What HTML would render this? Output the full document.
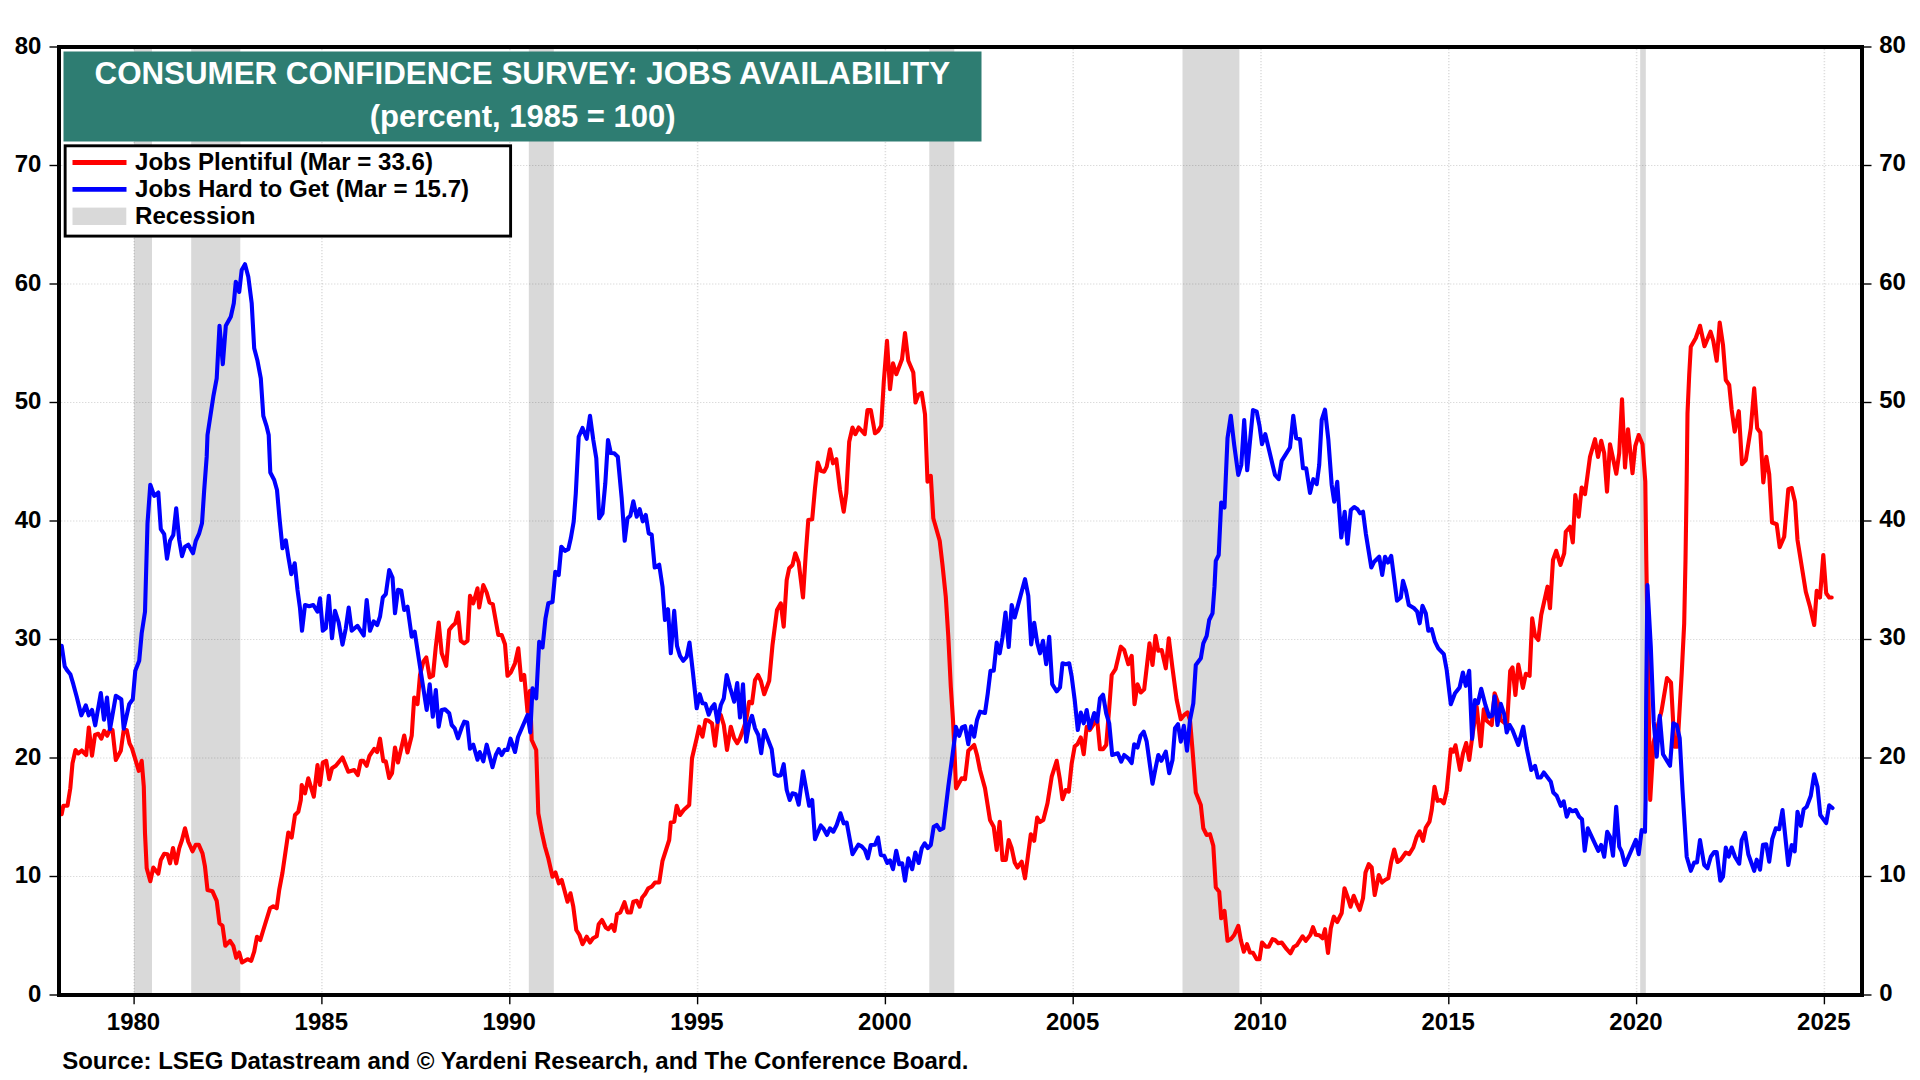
<!DOCTYPE html>
<html><head><meta charset="utf-8"><title>Consumer Confidence Survey: Jobs Availability</title>
<style>
html,body{margin:0;padding:0;background:#fff;}
body{width:1920px;height:1080px;overflow:hidden;position:relative;font-family:"Liberation Sans",Arial,sans-serif;}
svg{position:absolute;left:0;top:0;}
text{font-family:"Liberation Sans",Arial,sans-serif;font-weight:bold;}
.ax{font-size:24px;fill:#000;}
.lg{font-size:24.1px;fill:#000;}
.tt{font-size:31.2px;fill:#fff;}
.src{font-size:24px;fill:#000;}
</style></head><body>
<svg width="1920" height="1080" viewBox="0 0 1920 1080">
<rect x="0" y="0" width="1920" height="1080" fill="#fff"/>

<rect x="134" y="49" width="18" height="944" fill="#d9d9d9"/>
<rect x="191.2" y="49" width="49.10000000000002" height="944" fill="#d9d9d9"/>
<rect x="528.8" y="49" width="25.0" height="944" fill="#d9d9d9"/>
<rect x="929.3" y="49" width="25.0" height="944" fill="#d9d9d9"/>
<rect x="1182.5" y="49" width="56.90000000000009" height="944" fill="#d9d9d9"/>
<rect x="1640.2" y="49" width="5.599999999999909" height="944" fill="#d9d9d9"/>
<line x1="61" x2="1860" y1="876.5" y2="876.5" stroke="#000" stroke-opacity="0.14" stroke-width="1.2" stroke-dasharray="1.4 1.6"/>
<line x1="61" x2="1860" y1="758.0" y2="758.0" stroke="#000" stroke-opacity="0.14" stroke-width="1.2" stroke-dasharray="1.4 1.6"/>
<line x1="61" x2="1860" y1="639.5" y2="639.5" stroke="#000" stroke-opacity="0.14" stroke-width="1.2" stroke-dasharray="1.4 1.6"/>
<line x1="61" x2="1860" y1="521.0" y2="521.0" stroke="#000" stroke-opacity="0.14" stroke-width="1.2" stroke-dasharray="1.4 1.6"/>
<line x1="61" x2="1860" y1="402.5" y2="402.5" stroke="#000" stroke-opacity="0.14" stroke-width="1.2" stroke-dasharray="1.4 1.6"/>
<line x1="61" x2="1860" y1="284.0" y2="284.0" stroke="#000" stroke-opacity="0.14" stroke-width="1.2" stroke-dasharray="1.4 1.6"/>
<line x1="61" x2="1860" y1="165.5" y2="165.5" stroke="#000" stroke-opacity="0.14" stroke-width="1.2" stroke-dasharray="1.4 1.6"/>
<line x1="134.1" x2="134.1" y1="49" y2="993" stroke="#000" stroke-opacity="0.13" stroke-width="1.6" stroke-dasharray="1.3 1.7"/>
<line x1="321.9" x2="321.9" y1="49" y2="993" stroke="#000" stroke-opacity="0.13" stroke-width="1.6" stroke-dasharray="1.3 1.7"/>
<line x1="509.8" x2="509.8" y1="49" y2="993" stroke="#000" stroke-opacity="0.13" stroke-width="1.6" stroke-dasharray="1.3 1.7"/>
<line x1="697.6" x2="697.6" y1="49" y2="993" stroke="#000" stroke-opacity="0.13" stroke-width="1.6" stroke-dasharray="1.3 1.7"/>
<line x1="885.4" x2="885.4" y1="49" y2="993" stroke="#000" stroke-opacity="0.13" stroke-width="1.6" stroke-dasharray="1.3 1.7"/>
<line x1="1073.2" x2="1073.2" y1="49" y2="993" stroke="#000" stroke-opacity="0.13" stroke-width="1.6" stroke-dasharray="1.3 1.7"/>
<line x1="1261.0" x2="1261.0" y1="49" y2="993" stroke="#000" stroke-opacity="0.13" stroke-width="1.6" stroke-dasharray="1.3 1.7"/>
<line x1="1448.8" x2="1448.8" y1="49" y2="993" stroke="#000" stroke-opacity="0.13" stroke-width="1.6" stroke-dasharray="1.3 1.7"/>
<line x1="1636.6" x2="1636.6" y1="49" y2="993" stroke="#000" stroke-opacity="0.13" stroke-width="1.6" stroke-dasharray="1.3 1.7"/>
<line x1="1824.4" x2="1824.4" y1="49" y2="993" stroke="#000" stroke-opacity="0.13" stroke-width="1.6" stroke-dasharray="1.3 1.7"/>
<path d="M61.7,814.2 L63.3,805.8 L67.5,805.8 L70.3,788.3 L72.5,763.3 L75.5,750.0 L78.3,753.3 L81.7,750.5 L86.2,755.0 L88.8,727.5 L92.0,755.8 L95.0,735.0 L98.3,733.8 L101.3,738.7 L104.2,730.8 L107.2,735.8 L110.0,729.2 L112.5,730.0 L115.8,760.0 L120.8,750.8 L123.7,730.0 L126.7,730.0 L129.5,743.3 L132.0,748.3 L135.0,758.3 L138.8,770.8 L141.7,760.8 L143.8,786.7 L145.0,833.3 L146.7,868.3 L150.3,881.2 L153.3,867.5 L158.3,873.7 L160.8,860.0 L164.2,853.7 L167.5,854.2 L170.0,863.3 L173.0,848.0 L176.2,863.3 L179.2,848.3 L182.0,840.0 L185.0,828.3 L188.3,841.7 L192.5,851.3 L195.8,844.7 L198.7,844.7 L202.5,853.3 L205.0,866.7 L207.5,890.0 L212.5,891.3 L216.7,900.8 L219.5,923.3 L222.5,925.8 L225.3,945.8 L230.0,940.8 L233.3,945.8 L236.2,957.8 L239.2,952.5 L242.0,962.5 L247.5,959.2 L251.2,960.8 L254.2,951.7 L257.0,936.7 L260.3,940.0 L263.3,930.0 L270.0,908.3 L273.3,906.3 L276.7,908.3 L279.2,890.0 L282.5,872.5 L288.3,832.5 L291.7,837.5 L295.0,815.0 L298.3,811.7 L300.8,800.0 L301.7,785.0 L305.0,793.3 L308.3,778.3 L313.8,796.7 L317.5,765.0 L320.0,785.0 L322.8,762.5 L326.2,760.8 L329.2,779.2 L332.0,768.3 L335.8,765.8 L342.5,757.5 L348.3,771.7 L354.2,770.0 L357.8,775.0 L360.8,760.8 L363.3,760.8 L366.7,765.8 L369.5,755.8 L374.2,748.8 L377.2,752.0 L380.0,738.7 L383.3,761.3 L385.8,761.3 L389.2,778.0 L392.0,773.3 L395.0,747.5 L398.0,762.5 L404.2,735.5 L407.5,752.5 L411.7,735.8 L414.2,697.5 L417.5,704.2 L420.0,675.0 L423.3,661.7 L426.3,657.5 L429.7,677.5 L433.0,675.8 L435.8,646.7 L438.7,622.5 L441.7,653.3 L446.2,665.8 L449.2,630.0 L452.5,625.8 L455.3,623.3 L458.0,612.5 L460.8,640.8 L464.2,643.3 L467.5,640.8 L470.0,595.8 L473.3,603.3 L477.5,588.3 L479.2,607.5 L483.3,585.0 L486.7,592.5 L489.5,602.5 L492.8,604.2 L498.3,635.0 L501.7,635.0 L505.0,644.2 L507.5,675.8 L510.8,672.5 L515.0,663.3 L518.3,648.3 L521.2,680.0 L524.2,675.0 L527.5,711.7 L530.0,690.8 L531.7,740.0 L536.2,750.0 L538.3,813.3 L541.7,831.7 L545.0,846.7 L548.3,858.3 L552.5,876.7 L555.5,872.5 L558.8,883.3 L561.7,880.0 L567.5,901.7 L570.5,893.3 L573.3,906.7 L576.3,930.0 L579.5,935.0 L582.5,944.2 L586.7,936.7 L590.0,942.5 L593.0,938.3 L596.7,936.3 L598.7,924.2 L602.0,920.0 L605.8,927.5 L608.3,929.2 L611.7,925.0 L614.5,930.8 L617.0,914.2 L620.3,912.5 L624.5,902.2 L627.5,912.5 L630.8,912.5 L633.3,901.7 L636.7,900.8 L639.7,906.7 L642.2,897.5 L645.0,894.2 L648.3,888.3 L651.7,886.7 L655.0,882.5 L659.2,882.5 L662.5,860.8 L669.2,840.0 L670.8,822.5 L674.2,821.7 L676.7,805.8 L680.0,815.0 L683.7,810.0 L689.2,805.0 L692.0,758.3 L696.7,738.3 L699.2,726.7 L702.5,736.7 L705.5,720.0 L708.7,720.8 L712.0,723.3 L715.0,745.8 L718.0,720.0 L720.8,715.0 L723.8,725.0 L727.0,750.0 L730.8,726.7 L734.2,738.3 L737.2,743.3 L740.0,738.3 L743.0,730.0 L746.2,720.0 L749.2,701.7 L752.0,703.3 L755.0,680.0 L758.0,675.0 L760.8,680.8 L764.2,694.2 L769.2,680.8 L772.5,645.0 L777.0,610.0 L780.8,603.3 L783.7,626.7 L786.7,580.0 L789.2,568.3 L792.5,565.0 L795.3,553.3 L798.7,562.5 L803.0,597.5 L805.8,553.3 L808.3,520.0 L812.2,519.2 L815.0,488.3 L817.8,462.5 L820.8,470.8 L824.2,471.7 L826.7,466.7 L830.0,449.2 L833.0,463.3 L836.3,459.2 L840.0,490.0 L843.7,511.7 L846.3,493.3 L849.2,441.7 L852.5,427.5 L855.3,434.2 L858.7,427.5 L864.7,434.2 L867.5,410.0 L870.8,410.0 L875.0,433.3 L878.3,430.8 L881.2,425.8 L883.8,381.7 L887.0,340.8 L890.0,389.2 L893.0,363.3 L896.3,374.2 L902.0,359.2 L905.0,333.0 L908.3,360.8 L913.3,372.5 L915.5,402.5 L918.3,395.0 L921.7,392.8 L925.0,414.2 L927.5,481.7 L930.8,475.8 L933.3,518.3 L939.7,540.8 L942.5,565.0 L945.8,597.0 L948.3,636.7 L950.8,686.7 L953.0,720.0 L954.5,752.0 L956.0,787.5 L956.2,788.3 L961.7,778.3 L965.0,779.2 L968.3,750.8 L974.2,745.0 L977.0,755.0 L980.0,770.0 L985.0,788.3 L990.0,820.0 L993.7,826.7 L996.7,850.0 L999.7,821.7 L1002.5,860.0 L1005.8,860.0 L1008.7,840.0 L1011.7,848.3 L1014.7,862.5 L1017.5,867.5 L1021.7,861.7 L1025.0,878.3 L1030.8,834.2 L1034.2,840.8 L1037.2,817.5 L1040.0,822.0 L1043.3,820.0 L1047.5,803.3 L1051.7,776.7 L1056.7,760.8 L1059.7,778.3 L1062.5,799.2 L1065.8,790.0 L1068.7,791.7 L1071.7,763.3 L1074.7,746.3 L1077.5,744.2 L1080.8,737.5 L1083.7,754.2 L1086.7,726.7 L1089.7,730.0 L1094.2,723.3 L1097.2,720.0 L1100.0,749.2 L1103.0,749.2 L1106.2,745.0 L1109.2,708.3 L1111.7,675.0 L1115.5,669.2 L1120.8,646.7 L1124.2,650.0 L1128.3,664.2 L1131.7,655.8 L1134.5,704.2 L1137.5,684.2 L1140.8,692.5 L1144.2,689.2 L1149.5,643.3 L1152.5,665.0 L1155.5,635.8 L1158.3,650.8 L1161.7,650.0 L1165.8,668.3 L1168.8,638.3 L1172.5,668.3 L1176.7,700.0 L1180.8,719.2 L1184.2,715.0 L1187.5,712.5 L1190.0,720.0 L1192.5,750.0 L1195.8,792.5 L1200.8,805.0 L1203.3,828.3 L1206.7,835.0 L1210.0,834.2 L1213.3,845.8 L1215.8,887.5 L1219.2,891.7 L1221.2,918.3 L1224.5,910.8 L1227.5,940.8 L1230.8,939.2 L1234.2,935.0 L1238.3,925.8 L1240.8,940.0 L1243.8,951.7 L1247.0,944.2 L1250.0,952.5 L1253.0,952.8 L1256.7,959.2 L1259.5,959.2 L1262.0,942.5 L1265.8,946.7 L1268.7,946.7 L1272.5,939.2 L1275.0,940.0 L1278.3,943.3 L1281.7,942.5 L1286.7,949.2 L1290.5,953.3 L1293.7,947.0 L1296.7,945.3 L1302.5,936.3 L1305.8,940.8 L1310.3,935.0 L1313.0,927.2 L1315.8,934.7 L1319.2,935.3 L1322.5,938.3 L1325.0,929.2 L1328.0,953.0 L1330.8,928.3 L1333.8,916.7 L1337.2,922.0 L1341.7,913.0 L1344.5,888.3 L1347.5,896.7 L1350.5,906.7 L1353.7,895.8 L1356.7,903.3 L1359.7,910.0 L1363.0,898.3 L1365.5,872.5 L1368.7,864.2 L1371.7,867.5 L1374.7,895.0 L1378.8,875.0 L1382.0,882.5 L1385.0,880.0 L1388.3,878.3 L1391.2,861.7 L1394.2,849.5 L1397.5,862.0 L1400.8,859.7 L1405.8,852.5 L1409.2,854.2 L1413.3,847.5 L1416.7,836.7 L1419.7,831.3 L1423.0,840.8 L1425.8,827.5 L1429.5,821.7 L1431.7,810.0 L1434.5,786.7 L1437.5,800.8 L1440.8,800.0 L1443.8,803.3 L1446.7,790.8 L1450.8,749.2 L1453.3,751.7 L1455.5,745.3 L1460.0,770.0 L1463.0,753.3 L1466.2,743.0 L1469.2,760.0 L1472.5,735.0 L1476.7,706.7 L1480.8,746.2 L1483.8,709.2 L1486.7,720.8 L1491.7,725.0 L1494.6,693.3 L1497.7,701.7 L1500.8,720.0 L1503.9,722.5 L1507.1,723.8 L1510.2,670.8 L1512.5,667.5 L1515.4,695.0 L1518.3,664.6 L1522.9,687.9 L1525.8,673.8 L1529.6,675.8 L1532.2,618.3 L1535.0,635.8 L1538.3,640.0 L1541.2,615.0 L1547.5,586.7 L1550.0,608.3 L1553.0,560.0 L1556.2,550.8 L1560.5,565.0 L1564.2,553.3 L1565.8,531.7 L1570.0,526.7 L1572.8,542.5 L1575.3,495.0 L1578.7,516.7 L1581.7,487.5 L1585.0,494.2 L1590.0,456.7 L1595.0,439.2 L1598.0,457.0 L1601.2,440.8 L1604.2,453.3 L1607.0,491.7 L1610.0,444.2 L1616.3,473.7 L1619.2,453.3 L1622.0,399.2 L1625.0,467.5 L1628.0,429.2 L1632.5,473.3 L1635.3,445.8 L1638.7,435.0 L1642.5,444.2 L1645.3,481.7 L1646.3,560.0 L1647.6,640.0 L1648.6,700.0 L1649.5,760.0 L1650.2,800.0 L1653.6,742.0 L1656.5,731.0 L1659.5,719.0 L1661.5,711.0 L1664.0,696.0 L1667.0,678.0 L1671.0,682.5 L1674.5,746.7 L1677.5,746.7 L1681.7,673.3 L1684.2,623.3 L1685.5,560.0 L1686.7,480.0 L1687.5,413.3 L1689.2,375.0 L1690.8,346.7 L1695.8,338.0 L1700.0,325.8 L1704.5,346.2 L1710.5,331.7 L1713.3,340.8 L1716.7,360.8 L1719.7,322.5 L1723.0,345.0 L1725.8,380.0 L1729.2,385.0 L1731.7,410.0 L1734.7,431.7 L1738.8,411.2 L1742.0,464.2 L1745.8,460.0 L1750.8,428.3 L1754.2,388.3 L1757.2,428.3 L1760.3,432.5 L1763.3,482.5 L1766.3,456.7 L1769.2,474.2 L1772.0,522.5 L1776.7,524.2 L1779.7,547.2 L1784.2,536.7 L1788.3,489.2 L1791.7,488.0 L1795.0,501.7 L1797.5,540.0 L1805.8,591.7 L1810.0,606.7 L1814.2,625.0 L1816.7,590.8 L1820.0,597.5 L1823.3,555.0 L1826.2,593.3 L1829.2,597.5 L1831.7,597.5" fill="none" stroke="#ff0000" stroke-width="4.1" stroke-linejoin="round" stroke-linecap="round"/>
<path d="M61.7,645.8 L64.7,666.3 L67.5,670.8 L70.3,674.2 L73.3,684.2 L76.7,696.7 L81.3,715.3 L85.8,705.3 L88.8,715.3 L92.0,710.0 L95.2,725.3 L100.8,693.0 L104.0,719.7 L107.0,697.5 L110.0,729.2 L115.8,695.8 L121.3,699.2 L123.7,728.7 L129.2,704.2 L132.8,699.2 L135.3,670.8 L139.2,660.8 L141.7,633.3 L145.0,611.7 L147.5,523.3 L150.3,484.7 L154.2,495.8 L158.3,492.5 L160.8,529.2 L164.2,534.2 L167.0,558.7 L170.0,540.8 L173.3,535.0 L176.2,508.3 L179.2,540.0 L182.0,556.2 L185.0,546.7 L188.3,544.7 L193.0,553.3 L195.8,540.8 L199.2,533.3 L202.0,523.3 L204.2,490.0 L206.7,456.7 L207.5,435.0 L210.8,413.3 L213.3,396.7 L216.7,378.3 L219.5,325.8 L222.8,364.2 L225.8,325.8 L230.8,316.7 L233.8,303.3 L235.8,281.7 L239.2,292.0 L241.7,270.0 L245.0,264.2 L248.3,276.7 L251.7,303.3 L254.2,348.3 L257.5,360.8 L260.8,378.3 L263.3,415.8 L266.7,426.7 L268.7,435.0 L270.3,472.5 L274.2,480.0 L277.0,490.0 L279.5,518.3 L282.5,548.3 L285.8,540.3 L288.3,556.7 L291.3,574.2 L294.7,563.3 L297.5,590.0 L300.0,608.3 L302.0,630.8 L305.0,605.0 L309.2,606.3 L313.3,605.0 L317.5,611.7 L320.0,598.3 L322.8,630.8 L325.8,628.3 L328.8,595.8 L332.0,638.3 L335.0,610.8 L338.7,622.5 L342.5,644.7 L345.8,628.3 L348.7,607.5 L351.7,630.8 L357.5,625.8 L363.7,635.5 L366.7,600.0 L370.0,630.8 L373.7,621.3 L377.2,625.0 L380.0,616.7 L382.8,597.5 L385.8,594.2 L389.2,570.0 L392.5,577.5 L395.0,613.3 L398.0,589.7 L401.3,590.8 L404.2,610.0 L407.5,606.7 L411.7,636.7 L414.7,631.7 L420.8,671.7 L426.7,710.0 L429.7,684.2 L432.8,716.7 L435.8,690.0 L438.7,726.7 L441.7,710.0 L445.0,709.2 L449.2,713.3 L451.7,725.0 L454.7,728.3 L458.0,738.3 L461.7,727.5 L464.2,721.7 L467.2,722.5 L470.0,748.7 L473.3,744.7 L477.5,759.7 L479.7,752.0 L483.3,761.3 L486.7,744.7 L492.5,767.2 L495.8,755.0 L498.7,749.2 L501.7,755.0 L504.7,749.7 L507.5,750.0 L510.5,738.7 L515.0,752.0 L518.0,737.0 L527.5,715.0 L530.3,732.5 L532.5,688.3 L536.2,698.3 L539.2,641.7 L542.5,647.5 L545.5,618.3 L548.3,603.3 L552.5,602.0 L555.3,571.7 L558.7,575.0 L561.3,546.7 L565.0,550.8 L568.3,549.2 L570.8,538.3 L573.7,521.7 L575.8,493.3 L578.7,436.7 L582.5,428.0 L586.7,438.8 L590.0,415.8 L593.3,440.0 L596.3,458.3 L599.2,518.3 L602.5,513.3 L605.3,483.3 L608.0,440.0 L610.8,453.0 L614.2,453.3 L617.8,456.7 L621.7,498.3 L624.7,540.8 L627.5,518.3 L630.3,515.8 L633.3,501.3 L636.7,516.7 L639.7,509.2 L642.8,521.3 L645.8,515.0 L648.7,533.3 L651.7,534.7 L654.7,567.5 L659.2,564.7 L662.5,586.7 L665.0,620.0 L668.0,609.2 L670.8,653.3 L674.2,610.8 L677.0,645.8 L680.0,655.8 L683.3,660.8 L686.7,656.7 L689.5,642.5 L693.0,673.3 L696.7,708.3 L699.7,694.2 L702.5,703.3 L705.5,703.8 L708.7,714.7 L711.7,707.5 L714.5,704.2 L717.5,722.0 L720.8,705.0 L723.8,698.3 L726.7,675.0 L730.0,687.5 L734.2,701.7 L737.2,683.0 L740.0,717.5 L743.0,684.2 L746.2,741.7 L749.2,723.3 L752.0,715.8 L755.0,728.3 L758.3,735.0 L761.2,753.3 L764.2,730.0 L771.7,749.2 L774.7,774.2 L778.3,775.8 L780.8,775.3 L783.7,764.2 L786.7,790.0 L789.7,800.0 L792.5,793.3 L795.8,794.2 L798.7,804.7 L803.0,771.3 L809.2,805.8 L812.2,800.0 L815.0,839.2 L820.8,825.5 L823.3,828.3 L827.0,835.0 L830.0,828.3 L833.3,831.7 L836.7,825.0 L840.5,813.3 L843.7,823.3 L846.7,822.5 L852.5,854.2 L858.3,844.7 L861.7,846.3 L865.0,850.0 L867.8,858.3 L870.8,845.0 L875.0,844.7 L878.0,837.5 L880.8,855.0 L884.2,855.8 L887.2,863.0 L890.0,860.3 L893.0,869.2 L896.2,850.8 L899.2,864.2 L902.2,863.3 L905.0,880.8 L908.3,858.3 L912.2,869.2 L915.3,852.5 L918.7,863.0 L921.7,848.3 L924.7,843.3 L927.8,848.0 L930.8,845.0 L933.7,826.7 L936.7,825.0 L940.0,830.0 L943.3,828.3 L948.3,786.7 L952.5,755.0 L955.8,730.0 L955.8,726.7 L959.2,735.8 L962.0,727.5 L965.0,726.2 L968.3,744.2 L971.2,726.2 L974.2,736.7 L977.0,720.0 L980.0,711.7 L985.0,713.0 L987.8,693.3 L990.5,670.8 L993.7,670.8 L996.7,642.5 L999.7,653.3 L1002.5,637.5 L1005.5,612.5 L1008.7,647.0 L1011.7,605.0 L1014.7,617.5 L1025.0,579.2 L1028.3,595.8 L1031.2,644.5 L1034.2,622.8 L1037.2,642.5 L1040.0,653.3 L1043.0,640.8 L1046.2,664.2 L1049.2,636.7 L1052.2,684.2 L1056.7,691.3 L1060.0,687.5 L1062.5,663.3 L1065.8,664.2 L1069.2,663.3 L1071.7,676.7 L1074.7,700.0 L1077.8,730.0 L1080.8,712.5 L1083.7,723.3 L1086.7,710.0 L1089.7,728.3 L1094.2,713.0 L1097.2,721.7 L1100.0,698.3 L1103.0,694.7 L1106.2,713.3 L1109.2,723.3 L1112.2,755.0 L1117.8,753.3 L1121.2,761.7 L1124.2,755.0 L1128.3,758.3 L1131.7,763.0 L1134.2,744.2 L1137.5,747.5 L1140.5,735.8 L1143.7,731.7 L1146.7,741.7 L1152.5,783.8 L1155.5,768.3 L1158.3,755.0 L1161.3,760.8 L1165.8,751.7 L1169.2,773.3 L1172.5,760.0 L1175.0,728.3 L1178.0,724.2 L1180.8,741.7 L1183.8,725.8 L1187.0,750.8 L1190.0,720.0 L1193.3,703.3 L1195.8,665.0 L1200.8,658.3 L1203.3,643.3 L1206.7,635.8 L1209.2,620.0 L1212.5,613.3 L1214.5,586.7 L1215.8,560.8 L1218.7,555.0 L1221.2,502.5 L1224.5,507.5 L1227.5,438.3 L1230.8,415.8 L1234.2,445.0 L1238.3,475.0 L1241.3,465.0 L1244.2,420.0 L1247.2,470.3 L1253.0,410.0 L1256.7,411.7 L1259.5,425.8 L1262.0,444.2 L1265.3,434.2 L1275.0,475.0 L1278.7,479.2 L1281.7,460.8 L1290.0,447.5 L1293.3,415.8 L1296.2,438.3 L1300.0,439.2 L1303.0,468.3 L1306.2,468.3 L1310.0,493.0 L1313.3,479.2 L1316.7,484.2 L1319.2,465.0 L1321.7,420.0 L1325.0,409.7 L1328.3,439.2 L1331.7,485.0 L1334.2,501.7 L1337.2,481.7 L1341.3,537.5 L1344.7,511.7 L1347.5,543.8 L1350.8,510.0 L1354.2,507.0 L1357.5,509.2 L1360.0,513.3 L1363.0,511.7 L1365.8,533.3 L1371.3,567.5 L1374.2,561.7 L1379.2,556.7 L1382.2,575.0 L1385.0,556.7 L1388.0,562.5 L1391.2,555.8 L1397.0,600.8 L1400.8,597.5 L1403.0,580.8 L1405.8,590.0 L1408.8,605.0 L1414.2,608.3 L1417.2,611.7 L1419.7,623.3 L1422.5,605.8 L1425.8,613.3 L1428.3,630.8 L1431.7,629.2 L1435.0,641.7 L1438.3,648.3 L1443.8,654.2 L1446.7,670.0 L1450.8,704.2 L1455.0,693.3 L1459.6,687.5 L1462.9,672.5 L1465.8,685.8 L1469.2,670.8 L1472.1,738.8 L1475.0,700.0 L1477.9,703.3 L1481.2,688.8 L1485.4,705.0 L1489.2,716.7 L1492.1,715.8 L1494.6,696.2 L1497.5,725.0 L1500.8,703.8 L1504.2,714.2 L1506.7,732.5 L1509.6,725.0 L1512.5,730.0 L1518.3,745.0 L1523.2,726.7 L1526.7,748.3 L1531.3,770.0 L1535.0,765.8 L1537.8,777.5 L1540.8,777.5 L1543.8,772.5 L1550.8,781.7 L1553.3,792.5 L1556.7,795.8 L1560.8,805.8 L1563.7,801.3 L1566.7,816.7 L1569.7,809.2 L1572.5,811.3 L1575.8,810.0 L1579.2,816.7 L1582.0,819.2 L1584.7,850.8 L1587.8,828.3 L1598.3,850.8 L1601.2,845.0 L1604.2,856.7 L1607.2,831.7 L1610.0,836.7 L1613.0,855.8 L1616.2,806.7 L1619.2,846.7 L1621.7,851.7 L1625.0,865.0 L1635.8,840.0 L1638.7,854.2 L1641.7,830.0 L1645.0,831.7 L1645.6,800.0 L1646.2,700.0 L1647.4,585.0 L1650.8,646.7 L1653.7,721.7 L1656.7,756.7 L1659.7,715.8 L1663.0,754.2 L1670.0,765.8 L1673.3,723.3 L1676.7,725.0 L1679.7,738.3 L1682.5,790.0 L1686.7,856.7 L1690.8,870.8 L1694.2,862.5 L1697.0,862.5 L1700.0,840.0 L1704.2,865.0 L1707.5,868.3 L1710.8,856.7 L1714.2,852.0 L1716.7,852.0 L1720.3,880.8 L1723.0,876.7 L1725.8,847.5 L1728.7,856.7 L1731.7,847.5 L1735.0,856.7 L1739.2,863.7 L1741.7,840.0 L1745.0,832.8 L1748.3,854.2 L1754.2,870.8 L1756.7,859.7 L1760.0,869.7 L1763.0,844.7 L1766.2,844.2 L1769.2,861.7 L1772.2,839.2 L1775.8,828.3 L1779.2,829.2 L1782.5,810.0 L1788.3,865.0 L1791.7,845.0 L1794.7,851.3 L1797.5,811.7 L1800.8,825.8 L1803.7,809.2 L1806.7,806.7 L1810.8,795.8 L1814.2,774.2 L1817.5,786.7 L1820.3,815.0 L1826.2,823.0 L1829.2,805.3 L1832.5,808.0" fill="none" stroke="#0000ff" stroke-width="4.1" stroke-linejoin="round" stroke-linecap="round"/>
<rect x="63.5" y="51.5" width="918" height="90" fill="#2e7d72"/>
<text class="tt" x="522.3" y="83.6" text-anchor="middle" style="font-size:31.3px">CONSUMER CONFIDENCE SURVEY: JOBS AVAILABILITY</text>
<text class="tt" x="522.6" y="127.1" text-anchor="middle" style="font-size:31px">(percent, 1985 = 100)</text>
<rect x="65.15" y="145.8" width="445.45" height="90.3" fill="#fff" stroke="#000" stroke-width="2.9"/>
<line x1="72.5" x2="126.5" y1="162.5" y2="162.5" stroke="#ff0000" stroke-width="4.8"/>
<line x1="72.5" x2="126.5" y1="189.4" y2="189.4" stroke="#0000ff" stroke-width="4.8"/>
<rect x="72.5" y="207.6" width="53.8" height="17.4" fill="#d9d9d9"/>
<text class="lg" transform="translate(135.0,169.8) scale(1,0.975)" text-anchor="start">Jobs Plentiful (Mar = 33.6)</text>
<text class="lg" transform="translate(135.0,197.0) scale(1,0.975)" text-anchor="start">Jobs Hard to Get (Mar = 15.7)</text>
<text class="lg" transform="translate(135.0,224.2) scale(1,0.975)" text-anchor="start">Recession</text>
<rect x="59" y="47" width="1803" height="948" fill="none" stroke="#000" stroke-width="4"/>
<line x1="49.5" x2="57" y1="995.0" y2="995.0" stroke="#000" stroke-width="1.4"/>
<line x1="1864" x2="1871.5" y1="995.0" y2="995.0" stroke="#000" stroke-width="1.4"/>
<text class="ax" transform="translate(41.4,1001.8) scale(1,0.97)" text-anchor="end">0</text>
<text class="ax" transform="translate(1879.2,1000.9) scale(1,0.97)" text-anchor="start">0</text>
<line x1="49.5" x2="57" y1="876.5" y2="876.5" stroke="#000" stroke-width="1.4"/>
<line x1="1864" x2="1871.5" y1="876.5" y2="876.5" stroke="#000" stroke-width="1.4"/>
<text class="ax" transform="translate(41.4,883.3) scale(1,0.97)" text-anchor="end">10</text>
<text class="ax" transform="translate(1879.2,882.4) scale(1,0.97)" text-anchor="start">10</text>
<line x1="49.5" x2="57" y1="758.0" y2="758.0" stroke="#000" stroke-width="1.4"/>
<line x1="1864" x2="1871.5" y1="758.0" y2="758.0" stroke="#000" stroke-width="1.4"/>
<text class="ax" transform="translate(41.4,764.8) scale(1,0.97)" text-anchor="end">20</text>
<text class="ax" transform="translate(1879.2,763.9) scale(1,0.97)" text-anchor="start">20</text>
<line x1="49.5" x2="57" y1="639.5" y2="639.5" stroke="#000" stroke-width="1.4"/>
<line x1="1864" x2="1871.5" y1="639.5" y2="639.5" stroke="#000" stroke-width="1.4"/>
<text class="ax" transform="translate(41.4,646.3) scale(1,0.97)" text-anchor="end">30</text>
<text class="ax" transform="translate(1879.2,645.4) scale(1,0.97)" text-anchor="start">30</text>
<line x1="49.5" x2="57" y1="521.0" y2="521.0" stroke="#000" stroke-width="1.4"/>
<line x1="1864" x2="1871.5" y1="521.0" y2="521.0" stroke="#000" stroke-width="1.4"/>
<text class="ax" transform="translate(41.4,527.8) scale(1,0.97)" text-anchor="end">40</text>
<text class="ax" transform="translate(1879.2,526.9) scale(1,0.97)" text-anchor="start">40</text>
<line x1="49.5" x2="57" y1="402.5" y2="402.5" stroke="#000" stroke-width="1.4"/>
<line x1="1864" x2="1871.5" y1="402.5" y2="402.5" stroke="#000" stroke-width="1.4"/>
<text class="ax" transform="translate(41.4,409.3) scale(1,0.97)" text-anchor="end">50</text>
<text class="ax" transform="translate(1879.2,408.4) scale(1,0.97)" text-anchor="start">50</text>
<line x1="49.5" x2="57" y1="284.0" y2="284.0" stroke="#000" stroke-width="1.4"/>
<line x1="1864" x2="1871.5" y1="284.0" y2="284.0" stroke="#000" stroke-width="1.4"/>
<text class="ax" transform="translate(41.4,290.8) scale(1,0.97)" text-anchor="end">60</text>
<text class="ax" transform="translate(1879.2,289.9) scale(1,0.97)" text-anchor="start">60</text>
<line x1="49.5" x2="57" y1="165.5" y2="165.5" stroke="#000" stroke-width="1.4"/>
<line x1="1864" x2="1871.5" y1="165.5" y2="165.5" stroke="#000" stroke-width="1.4"/>
<text class="ax" transform="translate(41.4,172.3) scale(1,0.97)" text-anchor="end">70</text>
<text class="ax" transform="translate(1879.2,171.4) scale(1,0.97)" text-anchor="start">70</text>
<line x1="49.5" x2="57" y1="47.0" y2="47.0" stroke="#000" stroke-width="1.4"/>
<line x1="1864" x2="1871.5" y1="47.0" y2="47.0" stroke="#000" stroke-width="1.4"/>
<text class="ax" transform="translate(41.4,53.8) scale(1,0.97)" text-anchor="end">80</text>
<text class="ax" transform="translate(1879.2,52.9) scale(1,0.97)" text-anchor="start">80</text>
<line x1="134.1" x2="134.1" y1="997" y2="1004.3" stroke="#000" stroke-width="1.4"/>
<text class="ax" transform="translate(133.5,1029.5) scale(1,0.97)" text-anchor="middle">1980</text>
<line x1="321.9" x2="321.9" y1="997" y2="1004.3" stroke="#000" stroke-width="1.4"/>
<text class="ax" transform="translate(321.3,1029.5) scale(1,0.97)" text-anchor="middle">1985</text>
<line x1="509.8" x2="509.8" y1="997" y2="1004.3" stroke="#000" stroke-width="1.4"/>
<text class="ax" transform="translate(509.1,1029.5) scale(1,0.97)" text-anchor="middle">1990</text>
<line x1="697.6" x2="697.6" y1="997" y2="1004.3" stroke="#000" stroke-width="1.4"/>
<text class="ax" transform="translate(697.0,1029.5) scale(1,0.97)" text-anchor="middle">1995</text>
<line x1="885.4" x2="885.4" y1="997" y2="1004.3" stroke="#000" stroke-width="1.4"/>
<text class="ax" transform="translate(884.8,1029.5) scale(1,0.97)" text-anchor="middle">2000</text>
<line x1="1073.2" x2="1073.2" y1="997" y2="1004.3" stroke="#000" stroke-width="1.4"/>
<text class="ax" transform="translate(1072.6,1029.5) scale(1,0.97)" text-anchor="middle">2005</text>
<line x1="1261.0" x2="1261.0" y1="997" y2="1004.3" stroke="#000" stroke-width="1.4"/>
<text class="ax" transform="translate(1260.4,1029.5) scale(1,0.97)" text-anchor="middle">2010</text>
<line x1="1448.8" x2="1448.8" y1="997" y2="1004.3" stroke="#000" stroke-width="1.4"/>
<text class="ax" transform="translate(1448.2,1029.5) scale(1,0.97)" text-anchor="middle">2015</text>
<line x1="1636.6" x2="1636.6" y1="997" y2="1004.3" stroke="#000" stroke-width="1.4"/>
<text class="ax" transform="translate(1636.0,1029.5) scale(1,0.97)" text-anchor="middle">2020</text>
<line x1="1824.4" x2="1824.4" y1="997" y2="1004.3" stroke="#000" stroke-width="1.4"/>
<text class="ax" transform="translate(1823.8,1029.5) scale(1,0.97)" text-anchor="middle">2025</text>
<text class="src" transform="translate(62.2,1068.8) scale(1,0.975)" text-anchor="start">Source: LSEG Datastream and © Yardeni Research, and The Conference Board.</text>
</svg></body></html>
